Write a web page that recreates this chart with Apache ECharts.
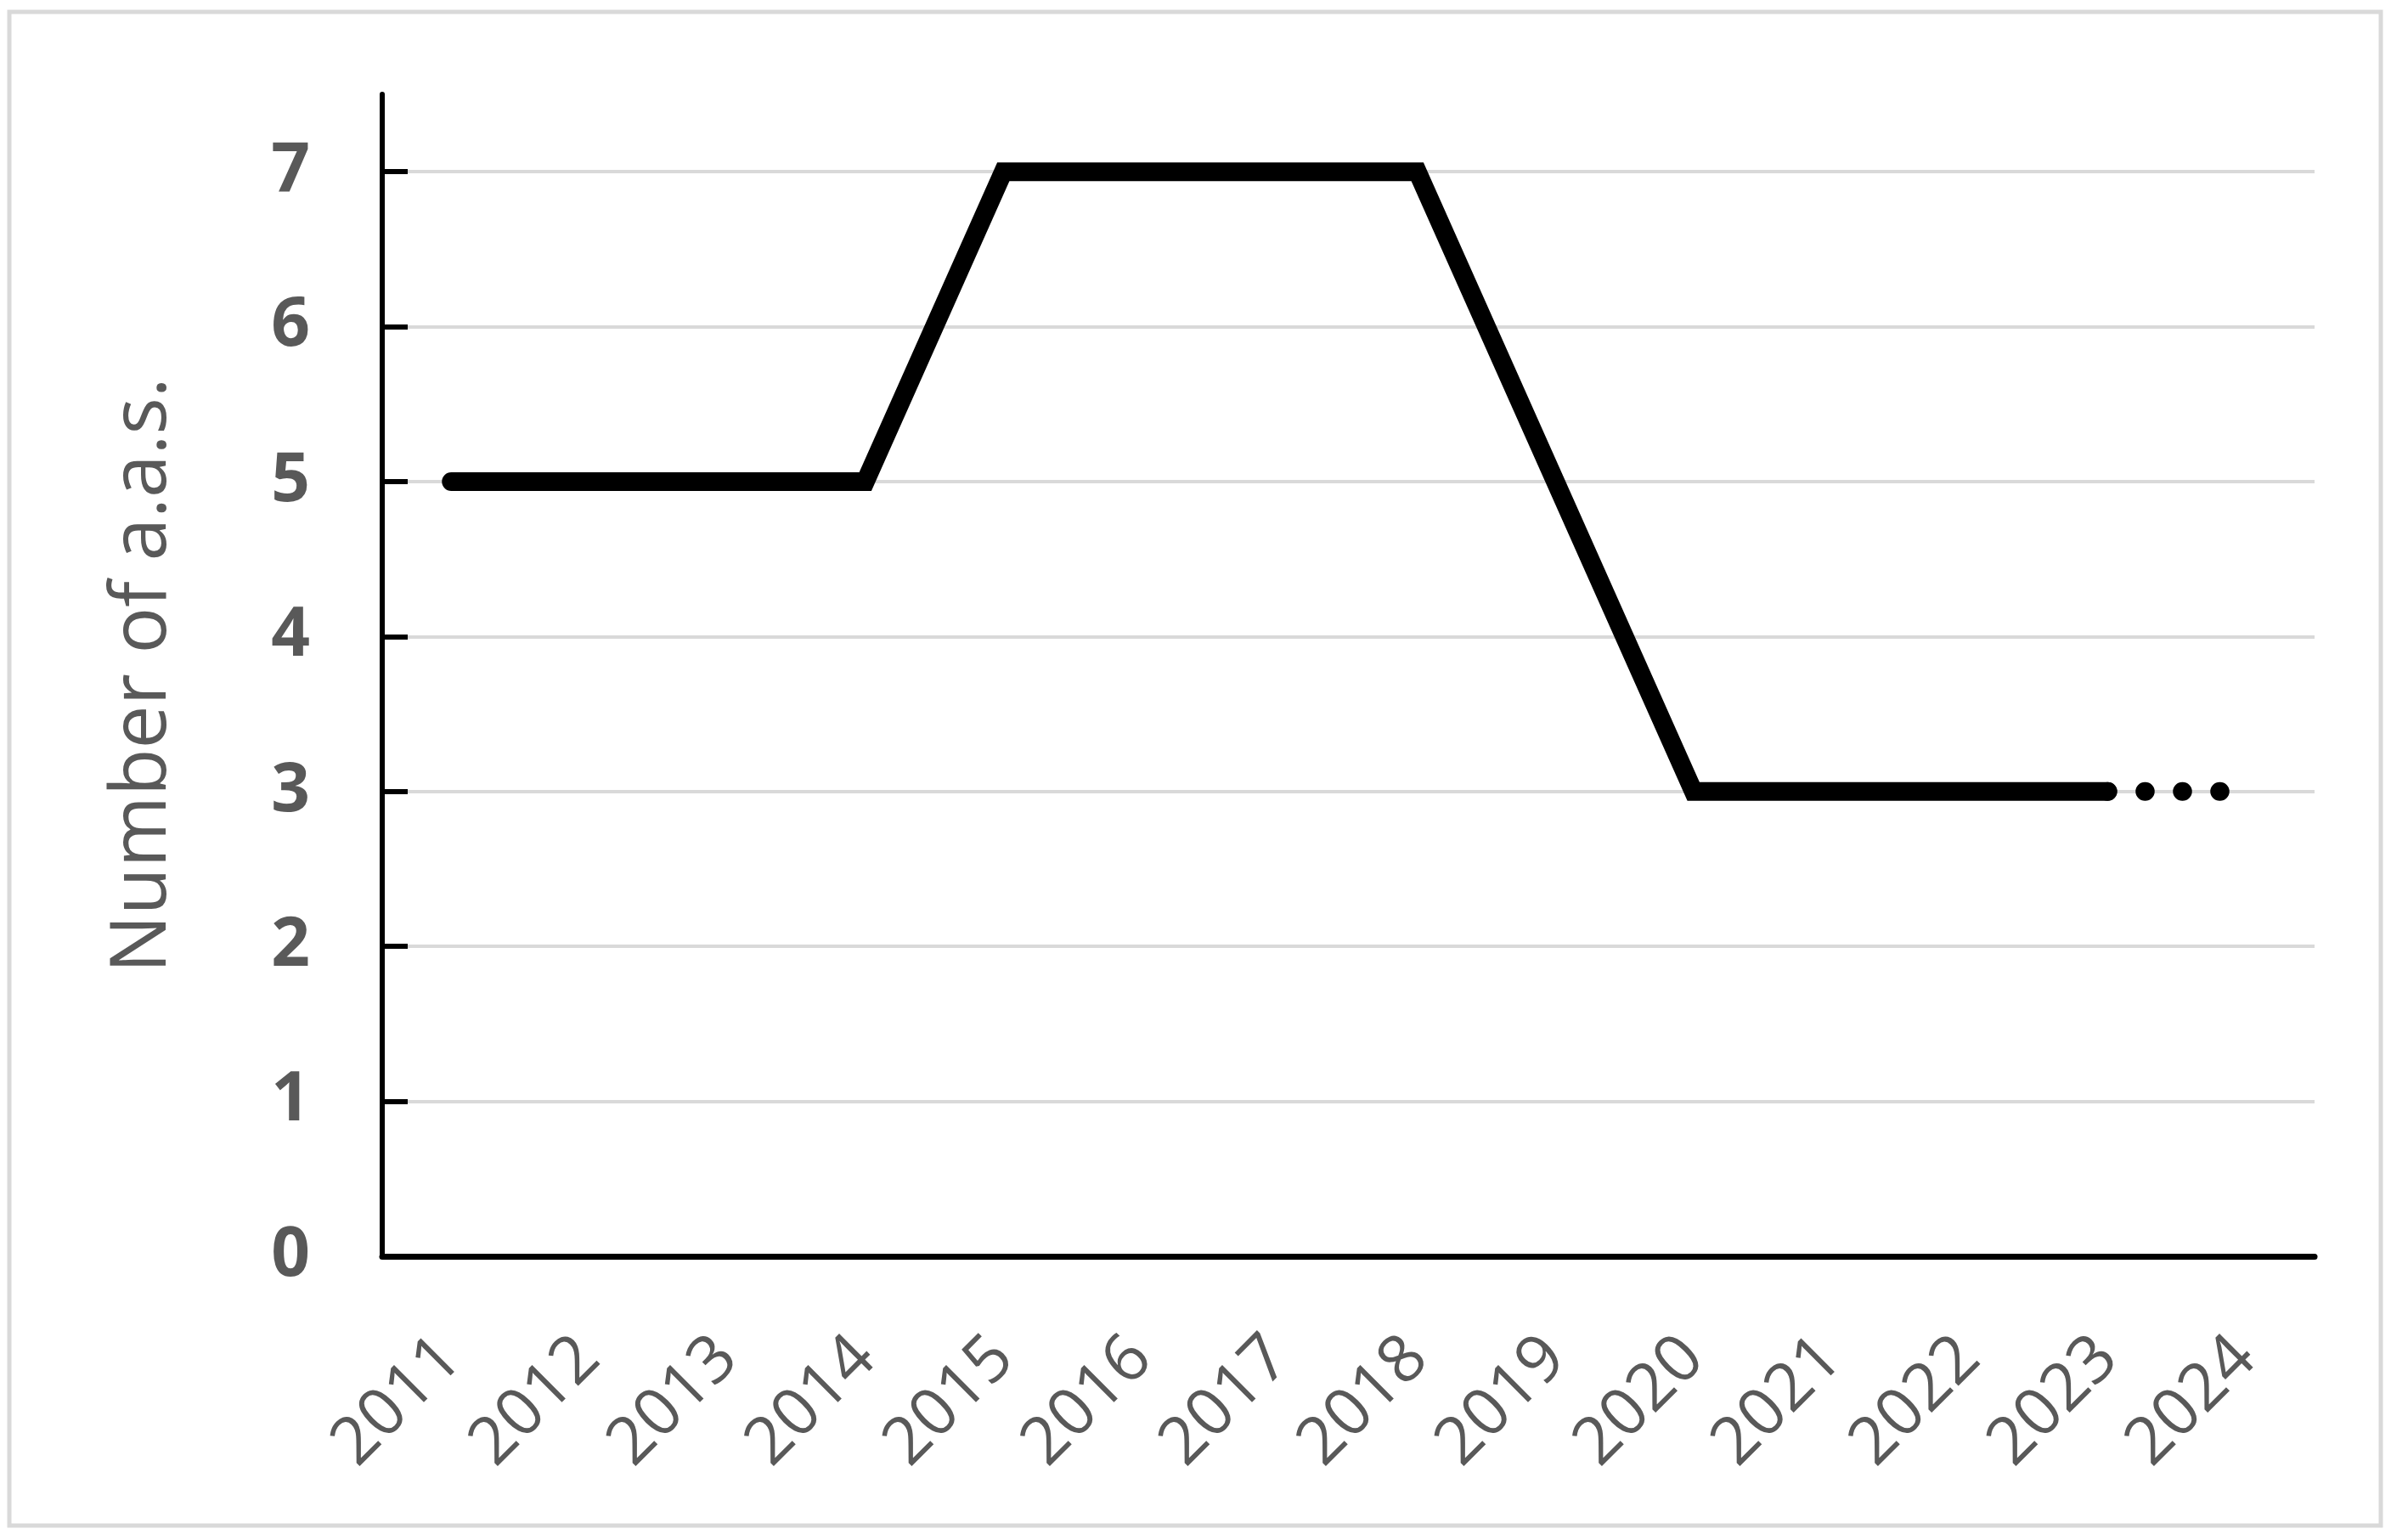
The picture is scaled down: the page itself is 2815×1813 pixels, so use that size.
<!DOCTYPE html>
<html>
<head>
<meta charset="utf-8">
<script src="https://cdn.jsdelivr.net/npm/echarts@6/dist/echarts.min.js"></script>
<style>
  html, body { margin: 0; padding: 0; background: #fff; }
  #chart { width: 2815px; height: 1813px; }
</style>
</head>
<body>
<div id="chart"></div>
<script>
var years = ['2011', '2012', '2013', '2014', '2015', '2016', '2017', '2018', '2019', '2020', '2021', '2022', '2023', '2024'];
// counted values (solid line)
var aasCount = [5, 5, 5, 5, 7, 7, 7, 7, 5, 3, 3, 3, 3, null];
// continuation (dotted line)
var aasOutlook = [null, null, null, null, null, null, null, null, null, null, null, null, 3, 3];
var yTicks = [0, 1, 2, 3, 4, 5, 6, 7];

var chartDom = document.getElementById('chart');
var myChart = echarts.init(chartDom);
var option;

var labelColor = '#595959';
var font = '"Open Sans", "Liberation Sans", sans-serif';

option = {
  backgroundColor: '#fff',
  animation: false,
  graphic: [
    {
      type: 'rect',
      shape: { x: 11, y: 14, width: 2792, height: 1782 },
      style: { fill: 'none', stroke: '#d9d9d9', lineWidth: 5 }
    }
  ],
  grid: {
    left: 450,
    right: 90,
    top: 111,
    bottom: 334
  },
  xAxis: {
    type: 'category',
    data: years,
    boundaryGap: true,
    axisLine: { lineStyle: { color: '#000', width: 7 } },
    axisTick: { inside: true, length: 32, lineStyle: { color: '#000', width: 5 } },
    axisLabel: {
      rotate: 45,
      margin: 108,
      fontSize: 78,
      fontFamily: font,
      color: labelColor
    }
  },
  yAxis: {
    type: 'value',
    min: 0,
    max: 7.5,
    interval: 1,
    name: 'Number of a.a.s.',
    nameLocation: 'middle',
    nameRotate: 90,
    nameGap: 235,
    nameTextStyle: { fontSize: 91, fontFamily: font, color: labelColor },
    axisLine: { show: true, lineStyle: { color: '#000', width: 6 } },
    axisTick: {
      show: true,
      inside: true,
      length: 30,
      customValues: yTicks,
      lineStyle: { color: '#000', width: 6 }
    },
    axisLabel: {
      margin: 85,
      fontSize: 80,
      fontWeight: 'bold',
      fontFamily: font,
      color: labelColor,
      customValues: yTicks
    },
    splitLine: {
      show: true,
      lineStyle: {
        color: ['#d9d9d9', '#d9d9d9', '#d9d9d9', '#d9d9d9', '#d9d9d9', '#d9d9d9', '#d9d9d9', '#d9d9d9', 'rgba(0,0,0,0)'],
        width: 4
      }
    }
  },
  series: [
    {
      name: 'a.a.s.',
      type: 'line',
      data: aasCount,
      symbol: 'none',
      z: 3,
      lineStyle: { color: '#000', width: 22, cap: 'round', join: 'miter' }
    },
    {
      name: 'outlook',
      type: 'line',
      data: aasOutlook,
      symbol: 'none',
      z: 2,
      lineStyle: { color: '#000', width: 22, type: [0.5, 43.5], cap: 'round' }
    }
  ]
};

myChart.setOption(option);
</script>
</body>
</html>
